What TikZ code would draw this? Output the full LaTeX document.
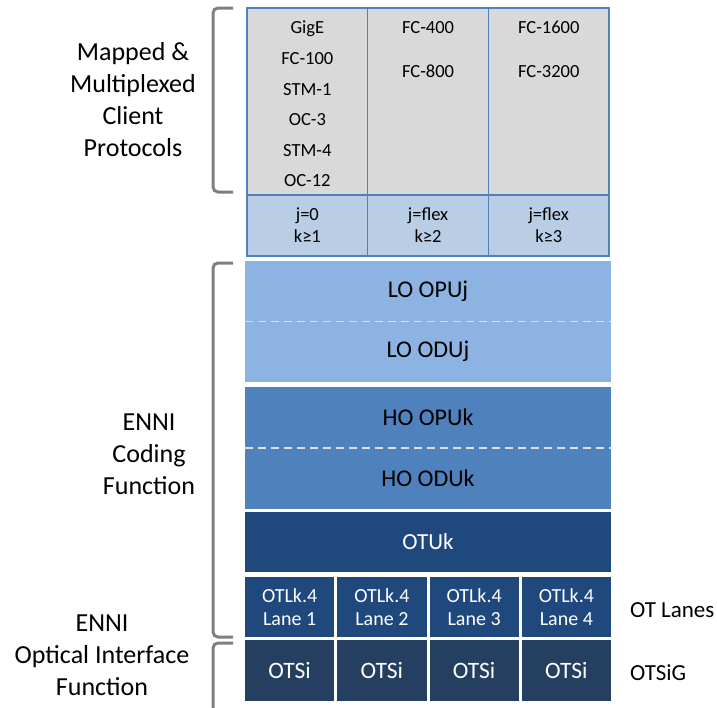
\documentclass[tikz,border=0pt]{standalone}
\usepackage{fontspec}
\setmainfont{Carlito}
\usepackage{tikz}
\usetikzlibrary{positioning}
\usepackage{xcolor}
\definecolor{pgray}{HTML}{D9D9D9}
\definecolor{pblue}{HTML}{B9CDE5}
\definecolor{gridblue}{HTML}{4F81BD}
\definecolor{lofill}{HTML}{8DB3E2}
\definecolor{hofill}{HTML}{4F81BD}
\definecolor{otfill}{HTML}{1F497D}
\definecolor{otsfill}{HTML}{243F60}
\definecolor{bgray}{HTML}{7F7F7F}
\tikzstyle{proto} = [draw=gridblue, line width=1.5pt, fill=pgray, rectangle, minimum width=120.7pt, minimum height=187pt, anchor=north west, inner sep=0pt, outer sep=0pt]
\tikzstyle{param} = [proto, fill=pblue, minimum height=61pt, align=center, font=\fontsize{18.5}{22}\selectfont]
\tikzstyle{list} = [align=center, anchor=north, inner sep=0pt]
\tikzstyle{layer} = [rectangle, minimum width=366pt, minimum height=60pt, anchor=north west, inner sep=0pt, outer sep=0pt, text centered, font=\fontsize{24}{28}\selectfont]
\tikzstyle{lane} = [layer, fill=otfill, text=white, minimum width=89.25pt, align=center, font=\fontsize{20}{23}\selectfont]
\tikzstyle{sep} = [draw=white!88!black, dash pattern=on 8pt off 5pt, line width=1.5pt]
\tikzstyle{bracket} = [draw=bgray, line width=3pt, rounded corners=5pt]
\tikzstyle{side} = [align=center, inner sep=0pt, font=\fontsize{26}{32}\selectfont]
\tikzstyle{tag} = [anchor=west, inner sep=0pt, font=\fontsize{23}{27}\selectfont]

\begin{document}
\begin{tikzpicture}[x=1pt, y=1pt]
                \useasboundingbox (0,0) rectangle (717,-707);

                % Client protocol table
                \node [proto] (p1) at (247,-8) {};
                \node [proto, right=0pt of p1] (p2) {};
                \node [proto, right=0pt of p2] (p3) {};
                \node [param, below=0pt of p1] (j1) {j=0\\k≥1};
                \node [param, below=0pt of p2] (j2) {j=flex\\k≥2};
                \node [param, below=0pt of p3] (j3) {j=flex\\k≥3};

                \node [list, below=13pt of p1.north, font=\fontsize{18.5}{30.6}\selectfont] (c1) {GigE\\FC-100\\STM-1\\OC-3\\STM-4\\OC-12};
                \node [list, below=13pt of p2.north, font=\fontsize{18.5}{44}\selectfont] (c2) {FC-400\\FC-800};
                \node [list, below=13pt of p3.north, font=\fontsize{18.5}{44}\selectfont] (c3) {FC-1600\\FC-3200};

                % Create Blocks
                \node [layer, fill=lofill, minimum height=60.5pt] (loopu) at (245,-261) {LO OPUj};
                \node [layer, fill=lofill, minimum height=60.5pt, below=0pt of loopu] (loodu) {LO ODUj};
                \node [layer, fill=hofill, minimum height=61pt] (hoopu) at (245,-387) {HO OPUk};
                \node [layer, fill=hofill, minimum height=61pt, below=0pt of hoopu] (hoodu) {HO ODUk};
                \node [layer, fill=otfill, text=white, font=\fontsize{23}{27}\selectfont] (otuk) at (245,-512) {OTUk};

                \node [lane] (ln1) at (245,-577) {OTLk.4\\Lane 1};
                \node [lane, right=3pt of ln1] (ln2) {OTLk.4\\Lane 2};
                \node [lane, right=3pt of ln2] (ln3) {OTLk.4\\Lane 3};
                \node [lane, right=3pt of ln3] (ln4) {OTLk.4\\Lane 4};

                \node [lane, fill=otsfill, minimum height=61pt, font=\fontsize{23.5}{27}\selectfont] (si1) at (245,-640) {OTSi};
                \node [lane, fill=otsfill, minimum height=61pt, font=\fontsize{23.5}{27}\selectfont, right=3pt of si1] (si2) {OTSi};
                \node [lane, fill=otsfill, minimum height=61pt, font=\fontsize{23.5}{27}\selectfont, right=3pt of si2] (si3) {OTSi};
                \node [lane, fill=otsfill, minimum height=61pt, font=\fontsize{23.5}{27}\selectfont, right=3pt of si3] (si4) {OTSi};

                % Add dashed separators
                \path [sep] (loopu.south west) -- (loopu.south east);
                \path [sep] (hoopu.south west) -- (hoopu.south east);

                % Add labels
                \node [side] (mapped) at (133,-100) {Mapped \&\\Multiplexed\\Client\\Protocols};
                \node [side] (coding) at (149,-454) {ENNI\\Coding\\Function};
                \node [side] (optical) at (102,-655) {ENNI\\Optical Interface\\Function};
                \node [tag] (lanes) at (630,-610) {OT Lanes};
                \node [tag] (otsig) at (630,-673) {OTSiG};

                % Add brackets
                \path [bracket] (233,-8) -- (213,-8) -- (213,-192) -- (233,-192);
                \path [bracket] (233,-263) -- (213,-263) -- (213,-637) -- (233,-637);
                \path [bracket] (233,-643) -- (213,-643) -- (213,-715);
            \end{tikzpicture}
\end{document}
